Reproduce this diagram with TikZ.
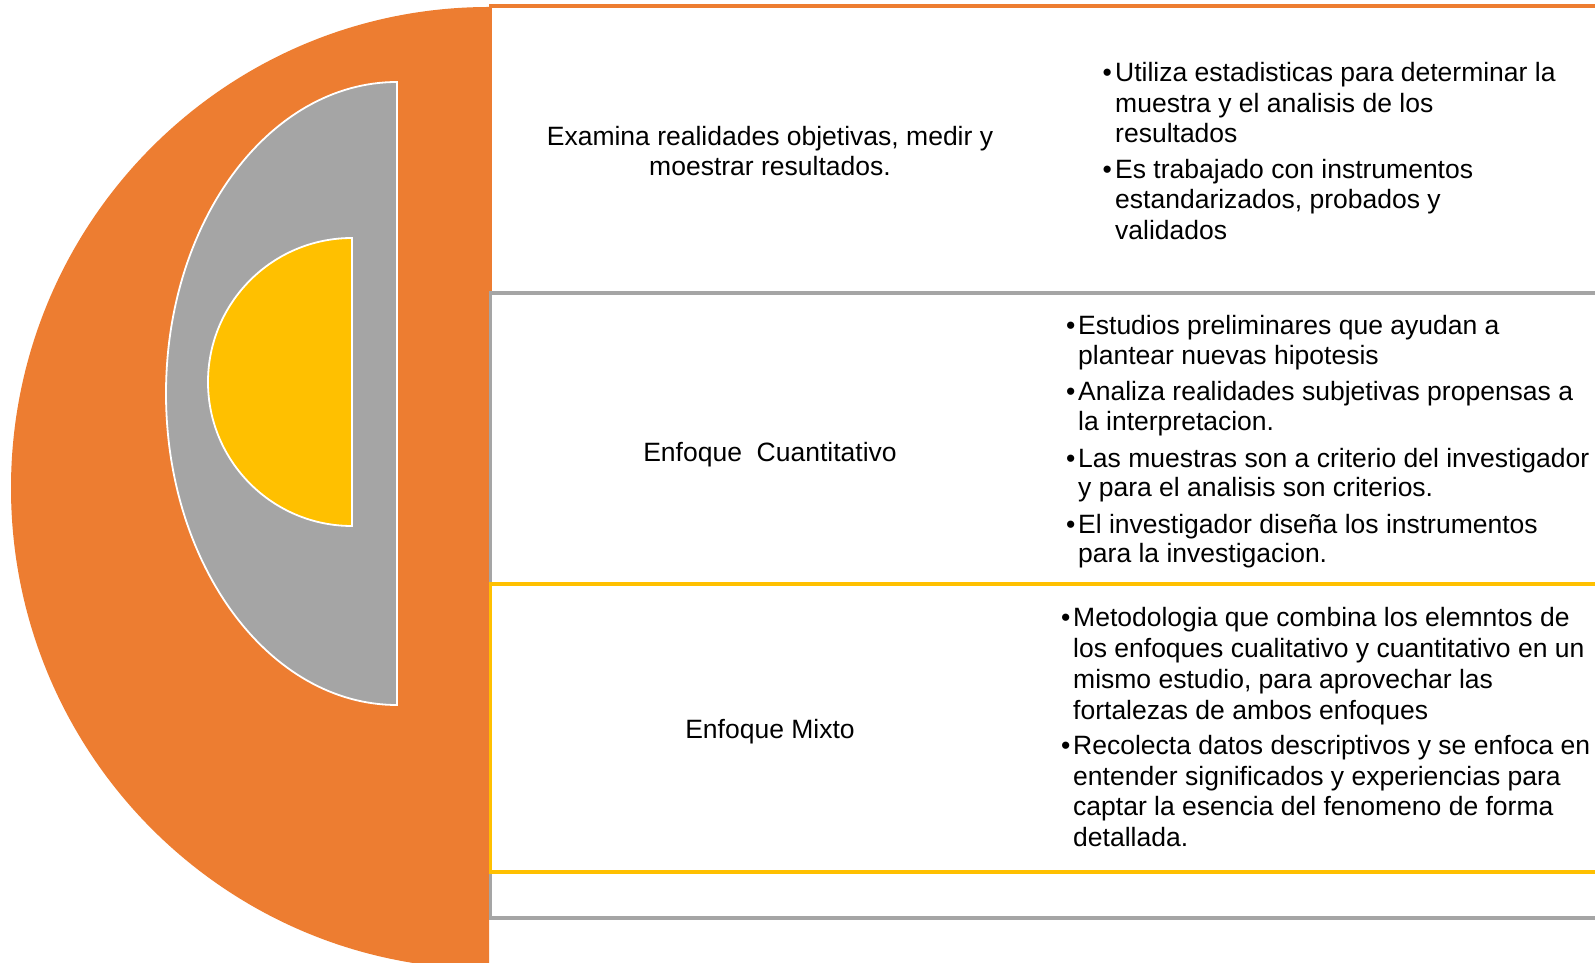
\documentclass[tikz,border=0pt]{standalone}
\usepackage{fontspec}
\setmainfont{Liberation Sans}
\definecolor{cOrange}{HTML}{ED7D31}
\definecolor{cGray}{HTML}{A5A5A5}
\definecolor{cYellow}{HTML}{FFC000}
\begin{document}
\begin{tikzpicture}[x=1pt,y=1pt,
  txt/.style={font=\fontsize{26.5}{30.5}\selectfont, inner sep=0pt, anchor=base west, text=black},
  ctr/.style={font=\fontsize{26.5}{30.5}\selectfont, inner sep=0pt, anchor=base, text=black},
  boxline/.style={line width=3.5pt}]
\useasboundingbox (0,0) rectangle (1595,962);
\clip (0,0) rectangle (1595,962);
\fill[white] (0,0) rectangle (1595,962);
% half discs
\fill[cOrange] (489,955) arc[start angle=90, end angle=270, x radius=478, y radius=481] -- cycle;
\filldraw[fill=cGray, draw=white, line width=1.8pt] (397,880) arc[start angle=90, end angle=270, x radius=231, y radius=311.5] -- cycle;
\filldraw[fill=cYellow, draw=white, line width=1.8pt] (352,724) arc[start angle=90, end angle=270, x radius=144, y radius=144] -- cycle;
% boxes
\draw[boxline, cOrange] (490.5,956) rectangle (1620,669);
\draw[boxline, cGray] (490.5,669) rectangle (1620,378);
\draw[boxline, cGray] (490.5,90) rectangle (1620,44);
\draw[boxline, cYellow] (490.5,378) rectangle (1620,90);
% left column
\node[ctr] (l1a) at (770,962-146) {Examina realidades objetivas, medir y};
\node[ctr] (l1b) at (770,962-176) {moestrar resultados.};
\node[ctr] (l2) at (770,962-461.5) {Enfoque\ \ Cuantitativo};
\node[ctr] (l3) at (770,962-738) {Enfoque Mixto};
% box 1 bullets
\foreach \yy in {82,179} \node[txt] (ba\yy) at (1102.5,962-\yy) {•};
\foreach \yy/\ltx [count=\n] in {82/{Utiliza estadisticas para determinar la},113/{muestra y el analisis de los},143/{resultados},179/{Es trabajado con instrumentos},209/{estandarizados, probados y},240/{validados}}
  \node[txt] (ra\n) at (1115,962-\yy) {\ltx};
% box 2 bullets
\foreach \yy in {335,401,467.5,533.5} \node[txt] (bb\yy) at (1066,962-\yy) {•};
\foreach \yy/\ltx [count=\n] in {335/{Estudios preliminares que ayudan a},364.5/{plantear nuevas hipotesis},401/{Analiza realidades subjetivas propensas a},430.5/{la interpretacion.},467.5/{Las muestras son a criterio del investigador},496.5/{y para el analisis son criterios.},533.5/{El investigador diseña los instrumentos},562.5/{para la investigacion.}}
  \node[txt] (rb\n) at (1078,962-\yy) {\ltx};
% box 3 bullets
\foreach \yy in {626,754.5} \node[txt] (bc\yy) at (1061,962-\yy) {•};
\foreach \yy/\ltx [count=\n] in {626/{Metodologia que combina los elemntos de},657/{los enfoques cualitativo y cuantitativo en un},688.5/{mismo estudio, para aprovechar las},719/{fortalezas de ambos enfoques},754.5/{Recolecta datos descriptivos y se enfoca en},785/{entender significados y experiencias para},815.5/{captar la esencia del fenomeno de forma},846/{detallada.}}
  \node[txt] (rc\n) at (1073,962-\yy) {\ltx};
\end{tikzpicture}
\end{document}
